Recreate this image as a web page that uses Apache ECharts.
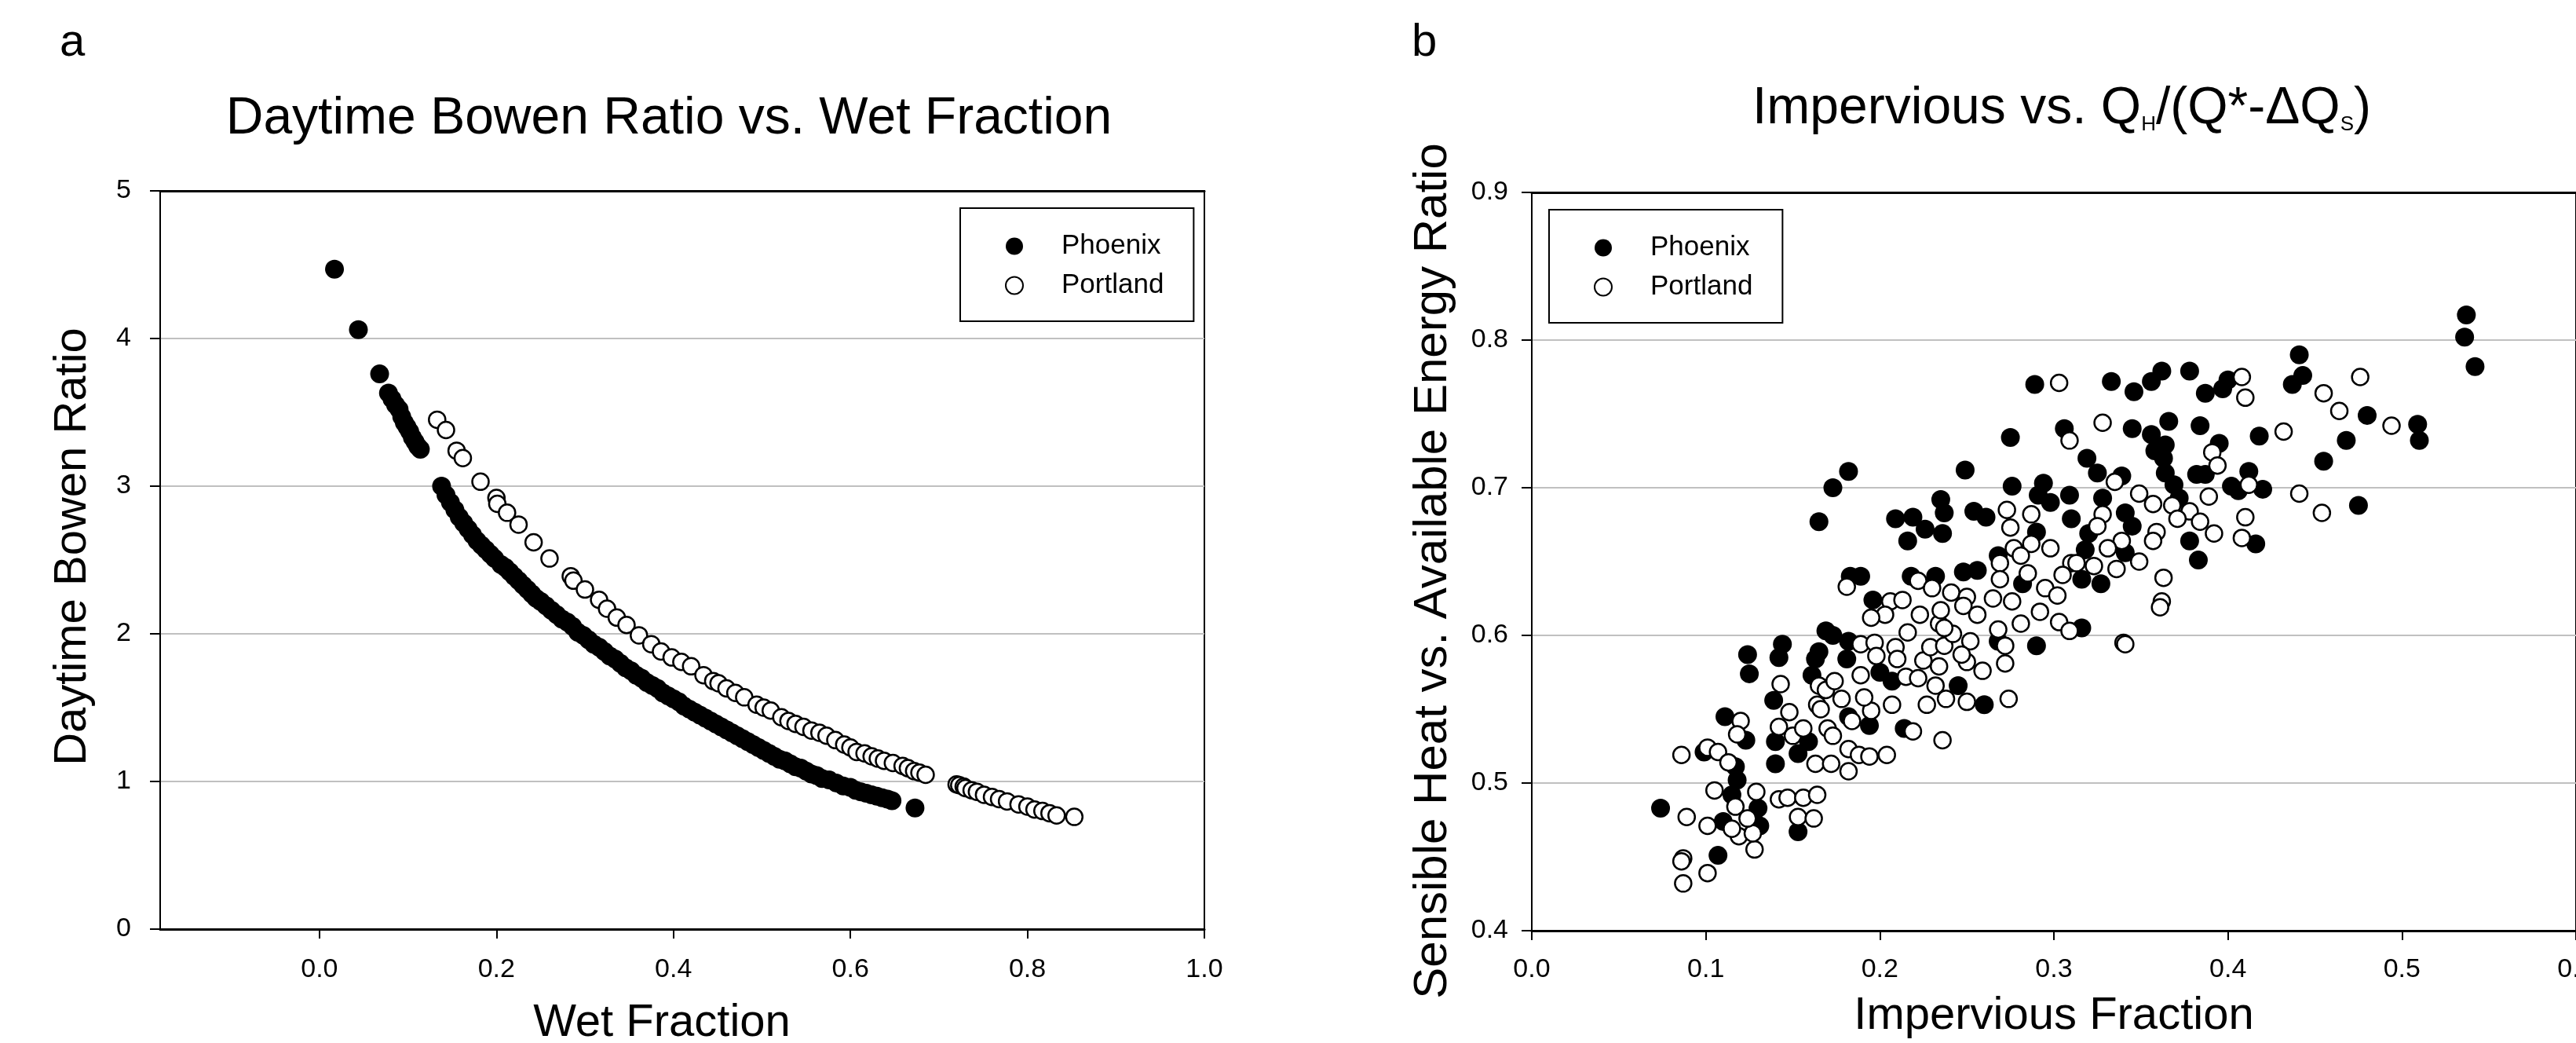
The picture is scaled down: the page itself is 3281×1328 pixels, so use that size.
<!DOCTYPE html>
<html>
<head>
<meta charset="utf-8">
<script src="https://cdn.jsdelivr.net/npm/echarts@6/dist/echarts.min.js"></script>
<style>
html,body{margin:0;padding:0;background:#fff;overflow:hidden;}
#chart{width:3281px;height:1328px;}
</style>
</head>
<body>
<div id="chart"></div>
<script>
// ---------- Panel a: Daytime Bowen ratio vs wet fraction ----------
const phoenixBowen = [
[0.017,4.47],[0.044,4.06],[0.068,3.76],[0.078,3.63],[0.082,3.59],[0.086,3.55],[0.090,3.52],[0.093,3.47],[0.096,3.43],[0.099,3.40],
[0.102,3.37],[0.105,3.33],[0.108,3.30],[0.111,3.27],[0.114,3.25],[0.138,3.00],[0.143,2.94],[0.148,2.89],[0.153,2.84],[0.158,2.79],
[0.163,2.75],[0.168,2.71],[0.173,2.67],[0.178,2.63],[0.183,2.60],[0.188,2.57],[0.193,2.54],[0.198,2.51],[0.205,2.47],[0.210,2.45],
[0.215,2.42],[0.220,2.39],[0.225,2.36],[0.230,2.33],[0.235,2.30],[0.240,2.27],[0.245,2.24],[0.250,2.22],[0.256,2.19],[0.262,2.16],
[0.268,2.13],[0.274,2.10],[0.280,2.08],[0.286,2.05],[0.292,2.01],[0.298,1.99],[0.304,1.96],[0.310,1.93],[0.316,1.91],[0.322,1.88],
[0.328,1.85],[0.334,1.83],[0.340,1.80],[0.346,1.77],[0.352,1.75],[0.358,1.72],[0.364,1.70],[0.370,1.67],[0.376,1.65],[0.382,1.63],
[0.388,1.60],[0.394,1.58],[0.400,1.56],[0.406,1.54],[0.412,1.51],[0.418,1.49],[0.424,1.47],[0.430,1.45],[0.436,1.43],[0.442,1.41],
[0.448,1.39],[0.454,1.37],[0.460,1.35],[0.466,1.33],[0.472,1.31],[0.478,1.29],[0.484,1.27],[0.490,1.25],[0.496,1.23],[0.502,1.21],
[0.508,1.19],[0.514,1.17],[0.520,1.15],[0.526,1.14],[0.532,1.12],[0.538,1.10],[0.544,1.09],[0.550,1.07],[0.556,1.05],[0.562,1.04],
[0.568,1.02],[0.576,1.01],[0.584,0.99],[0.592,0.97],[0.600,0.96],[0.606,0.94],[0.612,0.93],[0.618,0.92],[0.624,0.91],[0.630,0.90],
[0.636,0.89],[0.642,0.88],[0.647,0.87],[0.673,0.82]
];
const portlandBowen = [
[0.133,3.45],[0.143,3.38],[0.155,3.24],[0.162,3.19],[0.182,3.03],[0.200,2.92],[0.201,2.88],[0.212,2.82],[0.225,2.74],[0.242,2.62],
[0.260,2.51],[0.284,2.39],[0.287,2.36],[0.300,2.30],[0.316,2.23],[0.325,2.17],[0.336,2.11],[0.347,2.06],[0.361,1.99],[0.375,1.93],
[0.386,1.88],[0.398,1.84],[0.409,1.81],[0.420,1.78],[0.434,1.72],[0.445,1.68],[0.451,1.665],[0.460,1.63],[0.470,1.60],[0.480,1.57],
[0.494,1.52],[0.502,1.50],[0.510,1.48],[0.522,1.435],[0.530,1.41],[0.538,1.39],[0.547,1.37],[0.556,1.345],[0.565,1.33],[0.573,1.31],
[0.583,1.28],[0.593,1.25],[0.600,1.23],[0.607,1.20],[0.616,1.19],[0.624,1.17],[0.631,1.155],[0.638,1.14],[0.648,1.125],[0.659,1.105],
[0.665,1.09],[0.672,1.07],[0.678,1.06],[0.685,1.045],[0.720,0.98],[0.723,0.975],[0.728,0.965],[0.730,0.955],[0.737,0.94],[0.743,0.93],
[0.751,0.91],[0.760,0.895],[0.768,0.88],[0.777,0.865],[0.790,0.845],[0.800,0.83],[0.808,0.81],[0.817,0.80],[0.825,0.785],[0.833,0.77],
[0.853,0.76]
];
const wetTicks = [0.0, 0.2, 0.4, 0.6, 0.8, 1.0];

// ---------- Panel b: impervious fraction vs QH/(Q*-dQS) ----------
const phoenixImpervious = [
[0.289,0.770],[0.275,0.734],[0.306,0.740],[0.182,0.711],[0.173,0.700],[0.165,0.677],[0.249,0.712],[0.276,0.701],[0.294,0.703],[0.291,0.695],
[0.298,0.690],[0.309,0.695],[0.310,0.679],[0.235,0.692],[0.237,0.683],[0.209,0.679],[0.219,0.680],[0.226,0.672],[0.216,0.664],[0.236,0.669],
[0.254,0.684],[0.261,0.680],[0.290,0.670],[0.268,0.654],[0.183,0.640],[0.189,0.640],[0.218,0.640],[0.232,0.640],[0.248,0.643],[0.256,0.644],
[0.282,0.635],[0.196,0.624],
[0.537,0.817],[0.536,0.802],[0.542,0.782],[0.441,0.790],[0.443,0.776],[0.437,0.770],[0.480,0.749],[0.509,0.743],[0.510,0.732],[0.468,0.732],
[0.455,0.718],[0.418,0.735],[0.475,0.688],[0.333,0.772],[0.346,0.765],[0.356,0.772],[0.362,0.779],[0.378,0.779],[0.387,0.764],[0.397,0.767],
[0.400,0.773],[0.345,0.740],[0.356,0.736],[0.366,0.745],[0.384,0.742],[0.364,0.729],[0.358,0.725],[0.363,0.720],[0.364,0.710],[0.369,0.702],
[0.372,0.693],[0.395,0.730],[0.382,0.709],[0.387,0.709],[0.412,0.711],[0.402,0.701],[0.406,0.698],[0.420,0.699],[0.319,0.720],[0.325,0.710],
[0.339,0.708],[0.328,0.693],[0.378,0.664],[0.383,0.651],[0.416,0.662],[0.320,0.669],[0.341,0.683],[0.345,0.674],[0.318,0.658],[0.341,0.656],
[0.316,0.638],[0.327,0.635],[0.316,0.605],
[0.074,0.483],[0.107,0.451],[0.131,0.471],[0.130,0.483],[0.115,0.492],[0.118,0.502],[0.110,0.474],[0.099,0.521],[0.117,0.511],[0.111,0.545],
[0.123,0.529],[0.153,0.467],[0.140,0.513],[0.140,0.528],[0.139,0.556],[0.124,0.587],[0.125,0.574],[0.144,0.594],[0.142,0.585],[0.153,0.520],
[0.159,0.528],[0.182,0.545],[0.194,0.539],[0.161,0.573],[0.163,0.584],[0.165,0.589],[0.169,0.603],[0.173,0.600],[0.182,0.596],[0.181,0.584],
[0.200,0.575],[0.207,0.569],[0.214,0.537],[0.245,0.566],[0.260,0.553],[0.268,0.596],[0.290,0.593]
];
const portlandImpervious = [
[0.303,0.771],[0.309,0.732],[0.273,0.685],[0.287,0.682],[0.275,0.673],[0.287,0.662],[0.277,0.659],[0.281,0.654],[0.298,0.659],[0.269,0.649],
[0.310,0.649],[0.181,0.633],[0.222,0.637],[0.230,0.632],[0.241,0.629],[0.250,0.626],[0.269,0.638],[0.285,0.642],[0.295,0.632],[0.305,0.641],
[0.302,0.627],[0.206,0.623],[0.213,0.624],[0.265,0.625],[0.276,0.623],
[0.455,0.764],[0.476,0.775],[0.464,0.752],[0.494,0.742],[0.432,0.738],[0.454,0.683],[0.441,0.696],[0.408,0.775],[0.410,0.761],[0.328,0.744],
[0.391,0.724],[0.394,0.715],[0.412,0.702],[0.389,0.694],[0.335,0.704],[0.349,0.696],[0.357,0.689],[0.368,0.688],[0.378,0.684],[0.371,0.679],
[0.384,0.677],[0.392,0.669],[0.410,0.680],[0.408,0.666],[0.363,0.639],[0.362,0.623],[0.328,0.682],[0.325,0.674],[0.359,0.670],[0.357,0.664],
[0.339,0.664],[0.331,0.659],[0.313,0.649],[0.323,0.647],[0.336,0.645],[0.349,0.650],
[0.361,0.619],[0.340,0.595],[0.341,0.594],
[0.089,0.477],[0.101,0.471],[0.087,0.449],[0.086,0.447],[0.101,0.439],[0.087,0.432],[0.128,0.455],[0.119,0.464],[0.127,0.466],[0.124,0.476],
[0.117,0.484],[0.129,0.494],[0.105,0.495],[0.115,0.469],[0.086,0.519],[0.101,0.524],[0.107,0.521],[0.113,0.514],[0.120,0.542],[0.118,0.533],
[0.142,0.489],[0.147,0.490],[0.156,0.490],[0.164,0.492],[0.153,0.477],[0.162,0.476],[0.142,0.538],[0.148,0.548],[0.143,0.567],[0.150,0.532],
[0.156,0.537],[0.163,0.513],[0.172,0.513],[0.182,0.508],[0.182,0.523],[0.188,0.519],[0.194,0.518],[0.204,0.519],[0.170,0.537],[0.173,0.532],
[0.184,0.542],[0.195,0.549],[0.191,0.558],[0.178,0.557],[0.164,0.553],[0.166,0.550],[0.165,0.566],[0.169,0.563],[0.174,0.569],[0.189,0.594],
[0.189,0.573],[0.197,0.595],[0.198,0.586],[0.207,0.553],[0.219,0.535],[0.236,0.529],[0.209,0.592],[0.210,0.584],[0.216,0.602],[0.215,0.572],
[0.222,0.571],[0.225,0.583],[0.229,0.592],[0.232,0.566],[0.227,0.553],[0.234,0.579],[0.237,0.593],[0.242,0.601],[0.238,0.557],[0.250,0.582],
[0.252,0.596],[0.259,0.576],[0.250,0.555],[0.274,0.557],[0.272,0.593],[0.272,0.581],[0.268,0.604],[0.281,0.608],[0.292,0.616],[0.303,0.609],
[0.309,0.603],[0.248,0.620],[0.256,0.614],[0.234,0.608],[0.235,0.617],[0.223,0.614],[0.203,0.614],[0.195,0.612],[0.247,0.587],[0.237,0.605]
];

const FONT = '"Liberation Sans", Arial, Helvetica, sans-serif';
const BLACK = '#000';
const GRIDGRAY = '#c0c0c0';

const chart = echarts.init(document.getElementById('chart'), null, {renderer: 'canvas'});

function topAxis(gridIndex, min, max) {
  return {
    gridIndex, type: 'value', min, max, position: 'top',
    axisLine: {show: true, onZero: false, lineStyle: {color: BLACK, width: 3}},
    axisTick: {show: false}, axisLabel: {show: false}, splitLine: {show: false}
  };
}

const filledStyle = {color: BLACK, opacity: 1};
const openStyle = {color: '#fff', borderColor: BLACK, borderWidth: 2.5, opacity: 1};

const legendCommon = {
  orient: 'vertical', data: ['Phoenix', 'Portland'],
  icon: 'circle',
  itemWidth: 22, itemHeight: 22, itemGap: 15,
  padding: [31, 38, 28, 57],
  borderColor: BLACK, borderWidth: 2, backgroundColor: '#fff',
  selectedMode: false,
  textStyle: {fontFamily: FONT, fontSize: 35, lineHeight: 34, color: BLACK, padding: [0, 0, 0, 44]}
};

const option = {
  animation: false,
  backgroundColor: '#fff',
  textStyle: {fontFamily: FONT},
  title: [
    {text: 'a', left: 76, top: 26, padding: 0, textStyle: {fontFamily: FONT, fontSize: 58, fontWeight: 'normal', color: BLACK}},
    {text: 'Daytime Bowen Ratio vs. Wet Fraction', left: 852, top: 119, textAlign: 'center', padding: 0,
     textStyle: {fontFamily: FONT, fontSize: 66, fontWeight: 'normal', color: BLACK}},
    {text: 'b', left: 1798, top: 26, padding: 0, textStyle: {fontFamily: FONT, fontSize: 58, fontWeight: 'normal', color: BLACK}},
    {text: '{m|Impervious vs. Q}{s|H}{m|/(Q*-ΔQ}{s|S}{m|)}', left: 2626, top: 106, textAlign: 'center', padding: 0,
     textStyle: {fontFamily: FONT, fontSize: 66, fontWeight: 'normal', color: BLACK,
       rich: {
         m: {fontFamily: FONT, fontSize: 66, color: BLACK, verticalAlign: 'bottom'},
         s: {fontFamily: FONT, fontSize: 26, color: BLACK, verticalAlign: 'bottom'}
       }}}
  ],
  legend: [
    Object.assign({left: 1223, top: 265}, legendCommon),
    Object.assign({left: 1973, top: 267}, legendCommon)
  ],
  grid: [
    {left: 204, top: 243, width: 1330, height: 940, show: true, borderColor: BLACK, borderWidth: 2,
     backgroundColor: 'transparent', containLabel: false, outerBoundsMode: 'none'},
    {left: 1951, top: 245, width: 1330, height: 940, show: true, borderColor: BLACK, borderWidth: 2,
     backgroundColor: 'transparent', containLabel: false, outerBoundsMode: 'none'}
  ],
  xAxis: [
    {
      gridIndex: 0, type: 'value', min: -0.18, max: 1.0, position: 'bottom',
      axisLine: {show: true, onZero: false, lineStyle: {color: BLACK, width: 3}},
      axisTick: {show: true, customValues: wetTicks, length: 12, lineStyle: {color: BLACK, width: 2}},
      axisLabel: {customValues: wetTicks, formatter: v => v.toFixed(1), fontFamily: FONT, fontSize: 34, color: BLACK, margin: 35},
      splitLine: {show: false},
      name: 'Wet Fraction', nameLocation: 'middle', nameGap: 91,
      nameTextStyle: {fontFamily: FONT, fontSize: 58, color: BLACK, padding: [0, 52, 0, 0]}
    },
    topAxis(0, -0.18, 1.0),
    {
      gridIndex: 1, type: 'value', min: 0, max: 0.6, interval: 0.1, position: 'bottom',
      axisLine: {show: true, onZero: false, lineStyle: {color: BLACK, width: 3}},
      axisTick: {show: true, length: 12, lineStyle: {color: BLACK, width: 2}},
      axisLabel: {formatter: v => v.toFixed(1), fontFamily: FONT, fontSize: 34, color: BLACK, margin: 33, showMaxLabel: true},
      splitLine: {show: false},
      name: 'Impervious Fraction', nameLocation: 'middle', nameGap: 80,
      nameTextStyle: {fontFamily: FONT, fontSize: 58, color: BLACK}
    },
    topAxis(1, 0, 0.6)
  ],
  yAxis: [
    {
      gridIndex: 0, type: 'value', min: 0, max: 5, interval: 1,
      axisLine: {show: true, onZero: false, lineStyle: {color: BLACK, width: 2}},
      axisTick: {show: true, length: 13, lineStyle: {color: BLACK, width: 2}},
      axisLabel: {fontFamily: FONT, fontSize: 34, color: BLACK, margin: 37},
      splitLine: {show: true, lineStyle: {color: GRIDGRAY, width: 2}},
      name: 'Daytime Bowen Ratio', nameLocation: 'middle', nameGap: 82,
      nameTextStyle: {fontFamily: FONT, fontSize: 58, color: BLACK, padding: [0, 0, 0, 34]}
    },
    {
      gridIndex: 1, type: 'value', min: 0.4, max: 0.9, interval: 0.1,
      axisLine: {show: true, onZero: false, lineStyle: {color: BLACK, width: 2}},
      axisTick: {show: true, length: 13, lineStyle: {color: BLACK, width: 2}},
      axisLabel: {formatter: v => v.toFixed(1), fontFamily: FONT, fontSize: 34, color: BLACK, margin: 30},
      splitLine: {show: true, lineStyle: {color: GRIDGRAY, width: 2}},
      name: 'Sensible Heat vs. Available Energy Ratio', nameLocation: 'middle', nameGap: 96,
      nameTextStyle: {fontFamily: FONT, fontSize: 60, color: BLACK, padding: [0, 24, 0, 0]}
    }
  ],
  series: [
    {name: 'Phoenix', type: 'scatter', xAxisIndex: 0, yAxisIndex: 0, data: phoenixBowen,
     symbol: 'circle', symbolSize: 24, itemStyle: filledStyle, silent: true},
    {name: 'Portland', type: 'scatter', xAxisIndex: 0, yAxisIndex: 0, data: portlandBowen,
     symbol: 'circle', symbolSize: 21, itemStyle: openStyle, silent: true},
    {name: 'Phoenix', type: 'scatter', xAxisIndex: 2, yAxisIndex: 1, data: phoenixImpervious,
     symbol: 'circle', symbolSize: 24, itemStyle: filledStyle, silent: true},
    {name: 'Portland', type: 'scatter', xAxisIndex: 2, yAxisIndex: 1, data: portlandImpervious,
     symbol: 'circle', symbolSize: 21, itemStyle: openStyle, silent: true}
  ]
};
chart.setOption(option);
</script>
</body>
</html>
